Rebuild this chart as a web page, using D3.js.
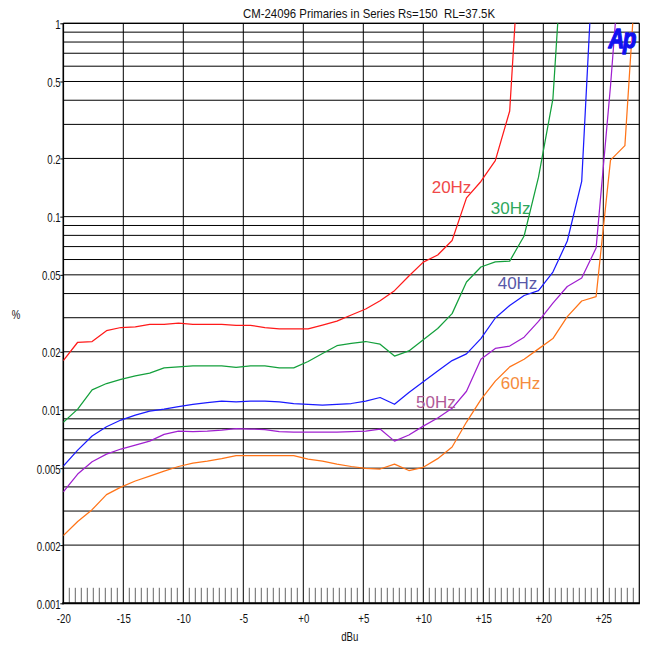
<!DOCTYPE html>
<html>
<head>
<meta charset="utf-8">
<script src="https://cdn.jsdelivr.net/npm/d3@7"></script>
<style>
  html, body { margin: 0; padding: 0; background: #fff; }
  svg { display: block; }
  text { font-family: "Liberation Sans", Arial, sans-serif; }
</style>
</head>
<body>
<svg id="chart" width="647" height="652"></svg>
<script>
// Drive level sweep (dBu) shared by every trace
const levels = [-20, -18.8, -17.6, -16.4, -15.2, -14, -12.8, -11.6, -10.4, -9.2, -8, -6.8,
  -5.6, -4.4, -3.2, -2, -0.8, 0.4, 1.6, 2.8, 4, 5.2, 6.4, 7.6, 8.8, 10, 11.2, 12.4,
  13.6, 14.8, 16, 17.2, 18.4, 19.6, 20.8, 22, 23.2, 24.4, 25.6, 26.8, 28];

// THD+N (%) per test frequency; each trace stops once it leaves the top of the graph
const thd20 = [0.0180, 0.0224, 0.0226, 0.0257, 0.0267, 0.0269, 0.0277, 0.0277, 0.0281, 0.0277,
  0.0277, 0.0277, 0.0274, 0.0274, 0.0267, 0.0263, 0.0263, 0.0263, 0.0275, 0.0288, 0.0310,
  0.0333, 0.0367, 0.0414, 0.0493, 0.0582, 0.0633, 0.0752, 0.125, 0.152, 0.195, 0.352, 6.0];
const thd30 = [0.00863, 0.0101, 0.0127, 0.0137, 0.0144, 0.0150, 0.0155, 0.0165, 0.0167, 0.0169,
  0.0169, 0.0169, 0.0166, 0.0169, 0.0169, 0.0165, 0.0165, 0.0178, 0.0196, 0.0215, 0.0221,
  0.0226, 0.0219, 0.0190, 0.0202, 0.0231, 0.0264, 0.0315, 0.0459, 0.0549, 0.0584, 0.0589,
  0.0794, 0.160, 0.406, 6.0];
const thd40 = [0.00513, 0.00620, 0.00733, 0.00819, 0.00887, 0.00941, 0.00987, 0.0101, 0.0104,
  0.0107, 0.0109, 0.0111, 0.0110, 0.0111, 0.0111, 0.0110, 0.0108, 0.0107, 0.0106, 0.0107,
  0.0108, 0.0111, 0.0116, 0.0107, 0.0123, 0.0140, 0.0159, 0.0180, 0.0195, 0.0234, 0.0299,
  0.0347, 0.0391, 0.0414, 0.0517, 0.0748, 0.152, 4.3];
const thd50 = [0.00377, 0.00466, 0.00540, 0.00591, 0.00628, 0.00658, 0.00690, 0.00748, 0.00778,
  0.00773, 0.00778, 0.00787, 0.00801, 0.00797, 0.00792, 0.00773, 0.00769, 0.00769, 0.00769,
  0.00769, 0.00773, 0.00778, 0.00797, 0.00690, 0.00742, 0.00825, 0.00908, 0.0102, 0.0125,
  0.0183, 0.0208, 0.0214, 0.0238, 0.0287, 0.0357, 0.0435, 0.0481, 0.0688, 0.474, 4.4];
const thd60 = [0.00224, 0.00265, 0.00305, 0.00365, 0.00399, 0.00429, 0.00455, 0.00483, 0.00510,
  0.00531, 0.00544, 0.00560, 0.00581, 0.00580, 0.00580, 0.00580, 0.00580, 0.00557, 0.00544,
  0.00525, 0.00510, 0.00499, 0.00495, 0.00525, 0.00486, 0.00505, 0.00560, 0.00643, 0.00866,
  0.0113, 0.0141, 0.0167, 0.0183, 0.0207, 0.0234, 0.0304, 0.0366, 0.0386, 0.196, 0.233, 3.4];

// Axis ticks
const xTickValues = [-20, -15, -10, -5, 0, 5, 10, 15, 20, 25];
const xTickLabels = ["-20", "-15", "-10", "-5", "+0", "+5", "+10", "+15", "+20", "+25"];
const yTickValues = [1, 0.5, 0.2, 0.1, 0.05, 0.02, 0.01, 0.005, 0.002, 0.001];
const yTickLabels = ["1", "0.5", "0.2", "0.1", "0.05", "0.02", "0.01", "0.005", "0.002", "0.001"];

// Trace names and where their in-plot labels sit (dBu, % at the label baseline)
const seriesNames = ["20Hz", "30Hz", "40Hz", "50Hz", "60Hz"];
const seriesValues = [thd20, thd30, thd40, thd50, thd60];
const lineColors = ["#ff1a1a", "#14a03c", "#1a1aff", "#a020d0", "#ff7418"];
const labelColors = ["#f04848", "#2ea85c", "#5858a8", "#b05a98", "#f58c3c"];
const labelDbu = [10.7, 15.62, 16.2, 9.39, 16.45];
const labelPct = [0.1325, 0.1031, 0.0422, 0.01023, 0.01283];

const title = "CM-24096 Primaries in Series Rs=150  RL=37.5K";

const svg = d3.select("#chart");
svg.append("rect").attr("width", 647).attr("height", 652).attr("fill", "#fff");

const x = d3.scaleLinear().domain([-20, 28]).range([63.3, 639.3]);
const y = d3.scaleLog().domain([0.001, 1]).range([603.3, 23.3]);
const [x0, x1] = x.range();
const [y0, y1] = [y.range()[1], y.range()[0]];

// Horizontal grid: every 1..9 step of each decade
svg.append("g").selectAll("line").data(y.ticks()).join("line")
  .attr("x1", x0).attr("x2", x1)
  .attr("y1", d => y(d)).attr("y2", d => y(d))
  .attr("stroke", "#000").attr("stroke-width", 1);

// Vertical grid every 5 dBu
svg.append("g").selectAll("line").data(xTickValues.filter(v => v > -20)).join("line")
  .attr("x1", d => x(d)).attr("x2", d => x(d))
  .attr("y1", y0).attr("y2", y1)
  .attr("stroke", "#000").attr("stroke-width", 1);

// Half-dBu minor ticks along the bottom edge
const minor = d3.range(-19.5, 28, 0.5).filter(v => v % 5 !== 0);
svg.append("g").selectAll("line").data(minor).join("line")
  .attr("x1", d => x(d)).attr("x2", d => x(d))
  .attr("y1", y1 - 15.5).attr("y2", y1)
  .attr("stroke", "#666").attr("stroke-width", 1);

// Frame
svg.append("line").attr("x1", x0).attr("x2", x1).attr("y1", y0).attr("y2", y0)
  .attr("stroke", "#000").attr("stroke-width", 1.2);
svg.append("line").attr("x1", x1).attr("x2", x1).attr("y1", y0).attr("y2", y1)
  .attr("stroke", "#000").attr("stroke-width", 1.2);
svg.append("line").attr("x1", x0).attr("x2", x0).attr("y1", y0).attr("y2", y1 + 1)
  .attr("stroke", "#000").attr("stroke-width", 1.6);
svg.append("line").attr("x1", x0 - 1).attr("x2", x1 + 0.6).attr("y1", y1).attr("y2", y1)
  .attr("stroke", "#000").attr("stroke-width", 2);

// Axes (labels only; the frame is drawn above)
const narrow = "scale(0.77,1)";
const gx = svg.append("g").attr("transform", `translate(0,${y1})`)
  .call(d3.axisBottom(x).tickValues(xTickValues).tickFormat((d, i) => xTickLabels[i]).tickSize(0));
gx.select(".domain").remove();
gx.selectAll("text")
  .attr("y", 0).attr("dy", null)
  .attr("font-size", 12.5).attr("font-family", "Liberation Sans, Arial, sans-serif")
  .attr("fill", "#111")
  .attr("transform", "translate(0,19.5) " + narrow);

const gy = svg.append("g").attr("transform", `translate(${x0},0)`)
  .call(d3.axisLeft(y).tickValues(yTickValues).tickFormat((d, i) => yTickLabels[i]).tickSize(3));
gy.select(".domain").remove();
gy.selectAll(".tick line").attr("stroke", "#000");
gy.selectAll("text")
  .attr("x", 0).attr("dy", null)
  .attr("font-size", 12.5).attr("font-family", "Liberation Sans, Arial, sans-serif")
  .attr("fill", "#111").attr("text-anchor", "end")
  .attr("transform", "translate(-2.6,5) " + narrow);

// Title and axis names
svg.append("text").attr("x", 243).attr("y", 17.5)
  .attr("font-size", 13.5).attr("fill", "#111")
  .attr("textLength", 252).attr("lengthAdjust", "spacingAndGlyphs")
  .style("white-space", "pre").text(title);
svg.append("g").attr("transform", `translate(${(x0 + x1) / 2 - 1.5},641) ${narrow}`)
  .append("text").attr("text-anchor", "middle").attr("font-size", 12.5).attr("fill", "#111").text("dBu");
svg.append("g").attr("transform", `translate(16,319) ${narrow}`)
  .append("text").attr("text-anchor", "middle").attr("font-size", 12.5).attr("fill", "#111").text("%");

// Traces
svg.append("clipPath").attr("id", "plot-clip").append("rect")
  .attr("x", x0).attr("y", y0).attr("width", x1 - x0).attr("height", y1 - y0);

const line = d3.line().x((d, i) => x(levels[i])).y(d => y(d));
const traces = svg.append("g").attr("clip-path", "url(#plot-clip)");
seriesValues.forEach((vals, k) => {
  traces.append("path").datum(vals)
    .attr("d", line)
    .attr("fill", "none")
    .attr("stroke", lineColors[k])
    .attr("stroke-width", 1.25)
    .attr("stroke-linejoin", "round");
});

// Trace labels
svg.append("g").selectAll("text").data(seriesNames).join("text")
  .attr("x", (d, i) => x(labelDbu[i]))
  .attr("y", (d, i) => y(labelPct[i]))
  .attr("font-size", 17)
  .attr("fill", (d, i) => labelColors[i])
  .text(d => d);

// Logo
svg.append("g").attr("transform", "translate(608.5,48) scale(0.78,1)")
  .append("text")
  .attr("font-size", 28).attr("font-weight", "bold").attr("font-style", "italic")
  .attr("letter-spacing", -1.5)
  .attr("fill", "#1010f0").attr("stroke", "#1010f0").attr("stroke-width", 1.4)
  .attr("stroke-linejoin", "round")
  .text("Ap");
</script>
</body>
</html>
